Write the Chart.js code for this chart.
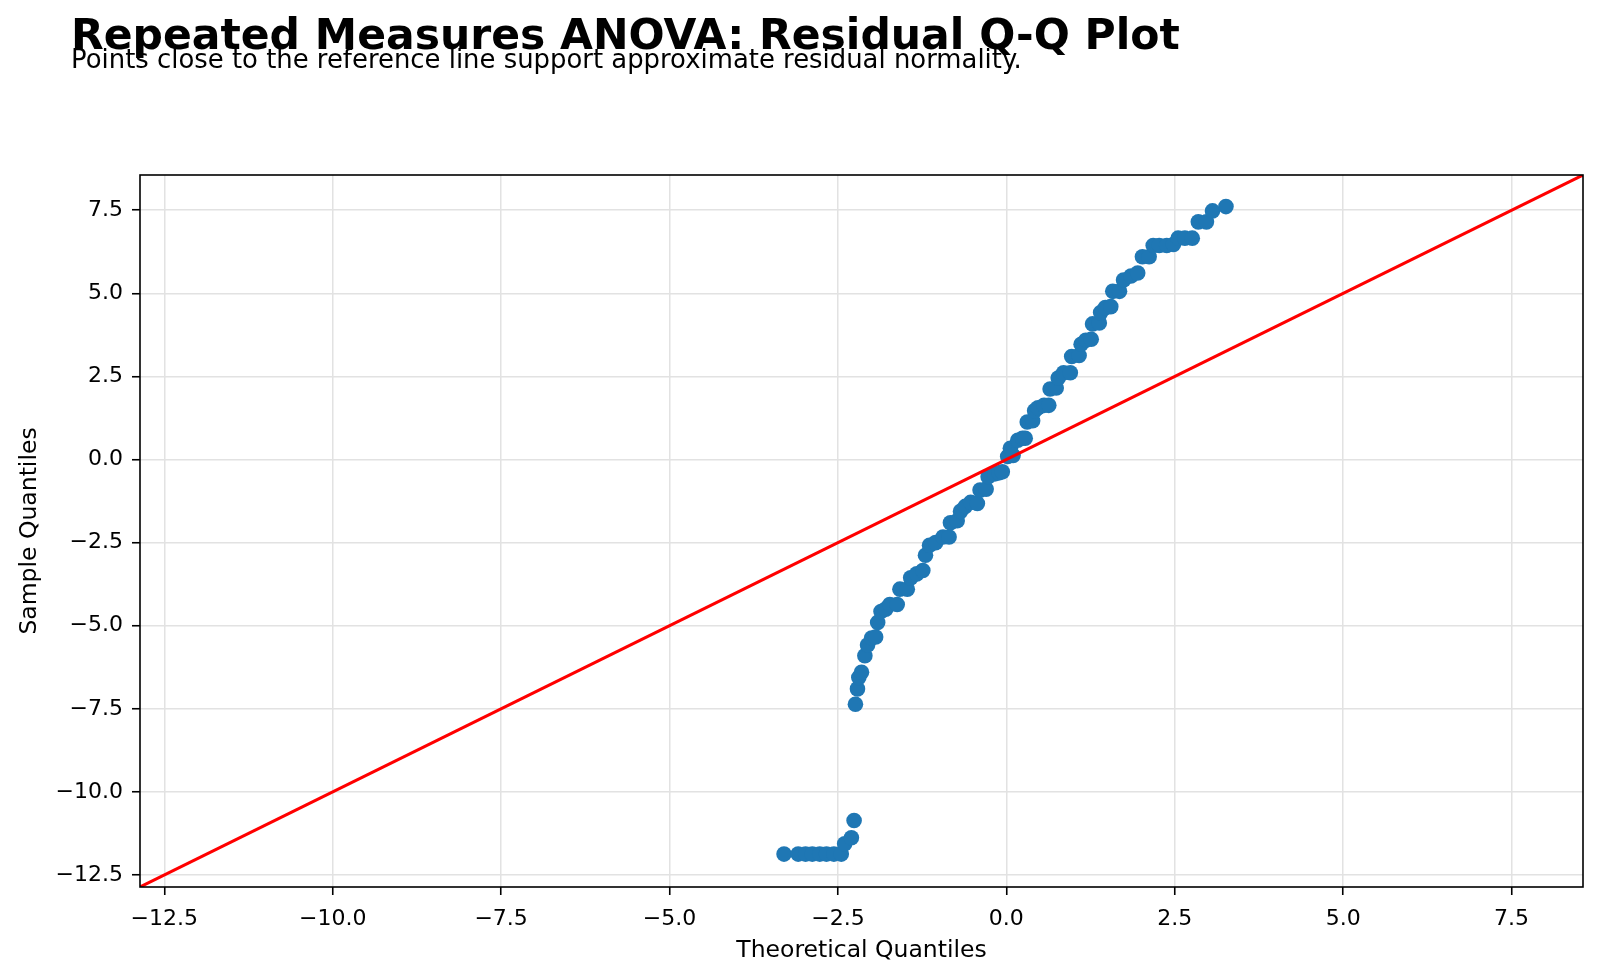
<!DOCTYPE html>
<html>
<head>
<meta charset="utf-8">
<title>Residual Q-Q Plot</title>
<script src="https://cdn.jsdelivr.net/npm/chart.js@4"></script>
<style>
  html, body { margin: 0; padding: 0; background: #fff; }
  #wrap { position: relative; width: 1600px; height: 979px; }
</style>
</head>
<body>
<div id="wrap"><canvas id="grafico" width="1600" height="979"></canvas></div>
<script>
const tituloTexto = "Repeated Measures ANOVA: Residual Q-Q Plot";
const subtituloTexto = "Points close to the reference line support approximate residual normality.";

// quantis teoricos (eixo x) e quantis da amostra (eixo y)
const quantisTeoricos = [
  -3.30, -3.09, -2.98, -2.88, -2.77, -2.67, -2.56, -2.45, -2.40, -2.30, -2.26,
  -2.24, -2.21, -2.19, -2.15, -2.10, -2.06, -2.00, -1.94, -1.91, -1.86, -1.79,
  -1.73, -1.62, -1.58, -1.47, -1.42, -1.33, -1.24, -1.20, -1.14, -1.05, -0.94,
  -0.85, -0.83, -0.73, -0.68, -0.61, -0.53, -0.43, -0.39, -0.30, -0.27, -0.17,
  -0.11, -0.06, 0.02, 0.06, 0.10, 0.17, 0.24, 0.28, 0.31, 0.39, 0.42, 0.47,
  0.56, 0.63, 0.65, 0.74, 0.77, 0.85, 0.95, 0.97, 1.08, 1.11, 1.18, 1.26,
  1.28, 1.38, 1.40, 1.47, 1.55, 1.58, 1.68, 1.74, 1.85, 1.95, 2.02, 2.12,
  2.18, 2.27, 2.38, 2.48, 2.55, 2.65, 2.76, 2.85, 2.97, 3.06, 3.26,
];
const quantisAmostra = [
  -11.87, -11.87, -11.87, -11.87, -11.87, -11.87, -11.87, -11.87, -11.56, -11.38, -10.86,
  -7.36, -6.90, -6.56, -6.40, -5.90, -5.58, -5.37, -5.34, -4.90, -4.57, -4.50,
  -4.36, -4.36, -3.90, -3.90, -3.56, -3.44, -3.34, -2.88, -2.58, -2.50, -2.33,
  -2.33, -1.90, -1.84, -1.56, -1.41, -1.29, -1.32, -0.92, -0.89, -0.52, -0.43,
  -0.40, -0.37, 0.09, 0.34, 0.12, 0.58, 0.64, 0.64, 1.13, 1.17, 1.47, 1.56,
  1.63, 1.63, 2.12, 2.15, 2.45, 2.61, 2.61, 3.10, 3.13, 3.47, 3.59, 3.62,
  4.08, 4.11, 4.42, 4.57, 4.60, 5.06, 5.06, 5.40, 5.52, 5.61, 6.10, 6.10,
  6.44, 6.44, 6.44, 6.47, 6.66, 6.66, 6.66, 7.15, 7.15, 7.48, 7.61,
];

// limites iguais nos dois eixos, a linha de referencia vai de canto a canto
const limiteMin = -12.86;
const limiteMax = 8.56;
const passoTicks = 2.5;

const pontos = quantisTeoricos.map((x, i) => ({ x: x, y: quantisAmostra[i] }));
const linhaReferencia = [
  { x: limiteMin, y: limiteMin },
  { x: limiteMax, y: limiteMax },
];

const fonteBase = "'DejaVu Sans', sans-serif";

const textoTitulo = {
  id: "textoTitulo",
  afterDraw(chart) {
    const ctx = chart.ctx;
    ctx.save();
    ctx.fillStyle = "#000";
    ctx.textAlign = "left";
    ctx.textBaseline = "alphabetic";
    ctx.font = "bold 42.5px " + fonteBase;
    ctx.fillText(tituloTexto, 71, 49);
    ctx.font = "25.9px " + fonteBase;
    ctx.fillText(subtituloTexto, 71, 68);
    ctx.restore();
  },
};

const molduraArea = {
  id: "molduraArea",
  afterDatasetsDraw(chart) {
    const { ctx, chartArea } = chart;
    ctx.save();
    ctx.strokeStyle = "#000";
    ctx.lineWidth = 1.6;
    ctx.strokeRect(
      chartArea.left,
      chartArea.top,
      chartArea.right - chartArea.left,
      chartArea.bottom - chartArea.top
    );
    ctx.restore();
  },
};

const grafico = document.getElementById("grafico").getContext("2d");

new Chart(grafico, {
  type: "scatter",
  data: {
    datasets: [
      {
        label: "Residuals",
        data: pontos,
        backgroundColor: "#1f77b4",
        borderColor: "#1f77b4",
        borderWidth: 0,
        pointRadius: 7.8,
        pointHoverRadius: 7.8,
        order: 2,
      },
      {
        type: "line",
        label: "Reference",
        data: linhaReferencia,
        borderColor: "#ff0000",
        borderWidth: 3,
        pointRadius: 0,
        fill: false,
        order: 1,
      },
    ],
  },
  options: {
    responsive: false,
    animation: false,
    events: [],
    layout: {
      padding: { top: 175, right: 17, left: 0, bottom: 0 },
    },
    plugins: {
      legend: { display: false },
      tooltip: { enabled: false },
    },
    scales: {
      x: {
        type: "linear",
        min: limiteMin,
        max: limiteMax,
        afterFit(scale) {
          scale.height = 92;
        },
        border: { display: false },
        grid: {
          color: "#e2e2e2",
          lineWidth: 1.5,
          tickColor: "#000",
          tickLength: 8,
          tickWidth: 1.6,
        },
        ticks: {
          stepSize: passoTicks,
          includeBounds: false,
          color: "#000",
          padding: 11,
          maxRotation: 0,
          font: { family: fonteBase, size: 22 },
          callback: (v) => v.toFixed(1).replace("-", "\u2212"),
        },
        title: {
          display: true,
          text: "Theoretical Quantiles",
          color: "#000",
          padding: { top: 0, bottom: 14 },
          font: { family: fonteBase, size: 23.5 },
        },
      },
      y: {
        type: "linear",
        min: limiteMin,
        max: limiteMax,
        afterFit(scale) {
          scale.width = 140;
        },
        border: { display: false },
        grid: {
          color: "#e2e2e2",
          lineWidth: 1.5,
          tickColor: "#000",
          tickLength: 8,
          tickWidth: 1.6,
        },
        ticks: {
          stepSize: passoTicks,
          includeBounds: false,
          color: "#000",
          padding: 9,
          font: { family: fonteBase, size: 22 },
          callback: (v) => v.toFixed(1).replace("-", "\u2212"),
        },
        title: {
          display: true,
          text: "Sample Quantiles",
          color: "#000",
          padding: { top: 16, bottom: 0 },
          font: { family: fonteBase, size: 23.5 },
        },
      },
    },
  },
  plugins: [textoTitulo, molduraArea],
});
</script>
</body>
</html>
